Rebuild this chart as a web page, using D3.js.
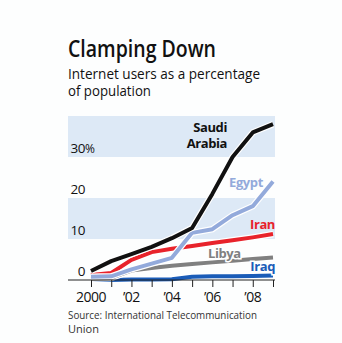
<!DOCTYPE html>
<html>
<head>
<meta charset="utf-8">
<script src="https://d3js.org/d3.v7.min.js"></script>
<style>
  body { margin: 0; background: #fdfefe; }
  text { font-family: "Open Sans", "Noto Sans", sans-serif; }
</style>
</head>
<body>
<div id="chart"></div>
<script>
// data
var years = [2000, 2001, 2002, 2003, 2004, 2005, 2006, 2007, 2008, 2009];
var saudi = [2.2, 4.6, 6.3, 8.1, 10.2, 12.7, 21, 30, 36, 38];
var egypt = [0.8, 0.9, 2.6, 4.0, 5.4, 11.5, 12.4, 15.8, 18, 24];
var iran  = [1.2, 1.7, 4.9, 6.8, 7.6, 8.3, 9.0, 9.7, 10.4, 11.2];
var libya = [0.3, 0.5, 2.3, 2.9, 3.5, 3.9, 4.3, 4.7, 5.1, 5.5];
var iraq  = [0.0, 0.0, 0.1, 0.1, 0.2, 0.8, 0.9, 0.9, 1.0, 1.1];
var yTicks = [0, 10, 20, 30];
var xTickLabels = ["2000", "\u201902", "\u201904", "\u201906", "\u201908"];

var series = [
  {name: "Iraq",  values: iraq,  color: "#1a5cb8"},
  {name: "Libya", values: libya, color: "#808080"},
  {name: "Iran",  values: iran,  color: "#e8232b"},
  {name: "Egypt", values: egypt, color: "#93aadb"},
  {name: "Saudi", values: saudi, color: "#111111"}
];

var W = 342, H = 343;
var svg = d3.select("#chart").append("svg")
    .attr("width", W).attr("height", H);

var left = 68, right = 275;
var x = d3.scaleLinear().domain([2000, 2009]).range([91, 273]);
var y = d3.scaleLinear().domain([0, 40]).range([280, 116]);

// shaded bands 10-20 and 30-40
svg.selectAll("rect.band")
  .data([[10, 20], [30, 40]])
  .enter().append("rect")
    .attr("x", left)
    .attr("width", right - left)
    .attr("y", function(d) { return y(d[1]); })
    .attr("height", function(d) { return y(d[0]) - y(d[1]); })
    .attr("fill", "#dde9f6");

// title + subtitle, squeezed to the narrow width of the original face
svg.append("text")
  .attr("x", 68).attr("y", 57)
  .attr("font-size", "23px")
  .attr("font-weight", 600)
  .attr("textLength", 148)
  .attr("lengthAdjust", "spacingAndGlyphs")
  .attr("fill", "#111")
  .text("Clamping Down");

svg.append("text")
  .attr("x", 68).attr("y", 79)
  .attr("font-size", "14px")
  .attr("font-weight", 500)
  .attr("textLength", 192)
  .attr("lengthAdjust", "spacingAndGlyphs")
  .attr("fill", "#111")
  .text("Internet users as a percentage");
svg.append("text")
  .attr("x", 68).attr("y", 96)
  .attr("font-size", "14px")
  .attr("font-weight", 500)
  .attr("textLength", 83)
  .attr("lengthAdjust", "spacingAndGlyphs")
  .attr("fill", "#111")
  .text("of population");

// y labels sit just above their gridlines
svg.selectAll("text.ylab")
  .data(yTicks)
  .enter().append("text")
    .attr("x", 85)
    .attr("y", function(d) { return y(d) - 4; })
    .attr("text-anchor", "end")
    .attr("font-size", "13.5px")
    .attr("letter-spacing", "-0.5px")
    .attr("fill", "#111")
    .text(function(d) { return d; });
svg.append("text")
  .attr("x", 85).attr("y", y(30) - 4)
  .attr("font-size", "12px")
  .attr("fill", "#111")
  .text("%");

// lines
var line = d3.line()
  .x(function(d, i) { return x(years[i]); })
  .y(function(d) { return y(d); });

series.forEach(function(s) {
  svg.append("path")
    .attr("d", line(s.values))
    .attr("fill", "none")
    .attr("stroke", "#fff")
    .attr("stroke-width", 6.4);
  svg.append("path")
    .attr("d", line(s.values))
    .attr("fill", "none")
    .attr("stroke", s.color)
    .attr("stroke-width", 4)
    .attr("stroke-linejoin", "round");
});

// x axis
var xAxis = d3.axisBottom(x)
  .tickValues(years)
  .tickSize(7)
  .tickFormat("");
var gx = svg.append("g")
  .attr("transform", "translate(0," + y(0) + ")")
  .call(xAxis);
gx.select(".domain").remove();
gx.selectAll(".tick line").attr("stroke", "#222").attr("stroke-width", 1);
gx.append("line")
  .attr("x1", left).attr("x2", right)
  .attr("stroke", "#222").attr("stroke-width", 1.2);

svg.selectAll("text.xlab")
  .data(xTickLabels)
  .enter().append("text")
    .attr("x", function(d, i) { return x(years[i * 2]); })
    .attr("y", 302)
    .attr("text-anchor", "middle")
    .attr("font-size", "14px")
    .attr("letter-spacing", "-0.5px")
    .attr("fill", "#111")
    .text(function(d) { return d; });

// series labels
function label(txt, xx, yy, color, anchor, halo) {
  var t = svg.append("text")
    .attr("x", xx).attr("y", yy)
    .attr("text-anchor", anchor)
    .attr("font-size", "13px")
    .attr("font-weight", 700)
    .attr("letter-spacing", "-0.4px")
    .attr("fill", color)
    .text(txt);
  if (halo) {
    t.attr("stroke", "#fff").attr("stroke-width", 3).attr("paint-order", "stroke");
  }
}
label("Saudi", 227, 132, "#111", "end");
label("Arabia", 227, 148, "#111", "end");
label("Egypt", 229, 187, "#93aadb", "start");
label("Iran", 275, 229, "#e8232b", "end");
label("Libya", 208, 258, "#808080", "start", true);
label("Iraq", 275, 271, "#1a5cb8", "end", true);

// source
svg.append("text")
  .attr("x", 68).attr("y", 319)
  .attr("font-size", "11.5px")
  .attr("textLength", 189)
  .attr("lengthAdjust", "spacingAndGlyphs")
  .attr("fill", "#333")
  .text("Source: International Telecommunication");
svg.append("text")
  .attr("x", 68).attr("y", 333)
  .attr("font-size", "11.5px")
  .attr("textLength", 31)
  .attr("lengthAdjust", "spacingAndGlyphs")
  .attr("fill", "#333")
  .text("Union");
</script>
</body>
</html>
